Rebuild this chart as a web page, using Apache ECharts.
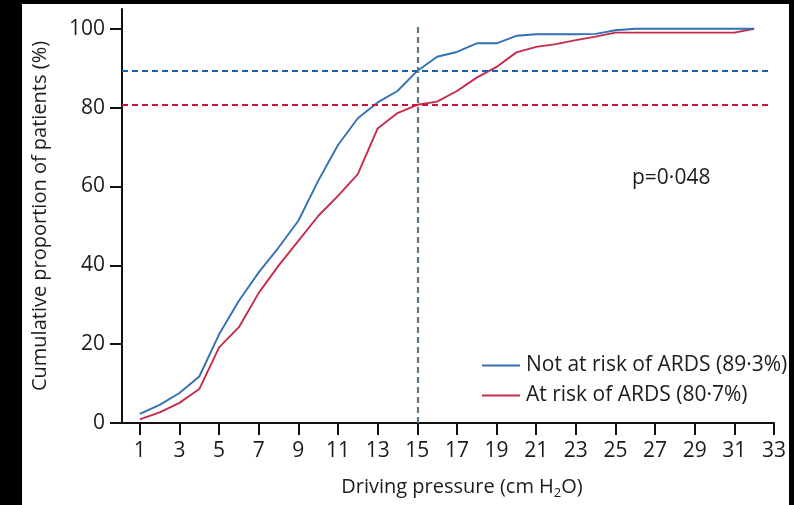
<!DOCTYPE html>
<html>
<head>
<meta charset="utf-8">
<script src="https://cdn.jsdelivr.net/npm/echarts@6/dist/echarts.min.js"></script>
<style>
  html, body { margin: 0; padding: 0; background: #000; width: 794px; height: 505px; overflow: hidden; }
  #chart { position: absolute; left: 22px; top: 4px; width: 767px; height: 501px; background: #fff; }
</style>
</head>
<body>
<div id="chart"></div>
<script>
// Driving pressure (cm H2O), one point per integer value
const pressure = [1, 2, 3, 4, 5, 6, 7, 8, 9, 10, 11, 12, 13, 14, 15, 16,
                  17, 18, 19, 20, 21, 22, 23, 24, 25, 26, 27, 28, 29, 30, 31, 32];

// Cumulative proportion of patients (%)
const notAtRisk = [2.3, 4.6, 7.6, 11.8, 22.5, 31.0, 38.2, 44.5, 51.3, 61.4, 70.5, 77.3, 81.3, 84.2, 89.3, 92.9,
                   94.1, 96.3, 96.3, 98.2, 98.6, 98.6, 98.6, 98.7, 99.6, 100, 100, 100, 100, 100, 100, 100];
const atRisk    = [0.9, 2.7, 5.1, 8.6, 19.2, 24.3, 33.0, 39.9, 46.2, 52.5, 57.6, 63.1, 74.7, 78.6, 80.7, 81.5,
                   84.2, 87.6, 90.3, 94.0, 95.4, 96.1, 97.1, 98.0, 99.0, 99.0, 99.0, 99.0, 99.0, 99.0, 99.0, 100];

// Reference cut-off and the proportion of each group at or below it
const cutoffPressure = 15;
const notAtRiskAtCutoff = 89.3;
const atRiskAtCutoff = 80.7;

const xTickLabels = [1, 3, 5, 7, 9, 11, 13, 15, 17, 19, 21, 23, 25, 27, 29, 31, 33];
const yTickLabels = [0, 20, 40, 60, 80, 100];

const seriesNames = ['Not at risk of ARDS (89·3%)', 'At risk of ARDS (80·7%)'];
const pValueText = 'p=0·048';

const BLUE = '#3470b4';
const BLUE_DASH = '#1a62ab';
const RED = '#c42c4c';
const RED_DASH = '#c8143e';
const GREY_DASH = '#5e7682';
const TEXT = '#1f1b1c';
const FONT = '"Open Sans", sans-serif';

const pairs = (ys) => pressure.map((x, i) => [x, ys[i]]);
const dashed = (color) => ({ color: color, width: 2.2, type: [6, 4] });

const chart = echarts.init(document.getElementById('chart'), null, { renderer: 'canvas' });

chart.setOption({
  animation: false,
  backgroundColor: '#fff',
  textStyle: { fontFamily: FONT, color: TEXT },
  title: {
    text: pValueText,
    left: 610,
    top: 164,
    padding: 0,
    textStyle: { fontFamily: FONT, fontSize: 21, fontWeight: 'normal', color: TEXT }
  },
  legend: {
    orient: 'vertical',
    left: 460,
    top: 351,
    padding: 0,
    itemGap: 9,
    itemWidth: 38,
    itemHeight: 2,
    icon: 'rect',
    data: seriesNames,
    textStyle: { fontFamily: FONT, fontSize: 21, color: TEXT, padding: [0, 0, 0, 1] }
  },
  grid: { left: 99, right: 13, top: 5, bottom: 81, containLabel: false },
  xAxis: {
    type: 'value',
    min: 0.1,
    max: 33,
    name: 'Driving pressure (cm H{sub|2}O)',
    nameLocation: 'middle',
    nameGap: 51,
    nameTextStyle: {
      fontFamily: FONT, fontSize: 20, color: TEXT, lineHeight: 26,
      padding: [0, 0, 0, 28],
      rich: { sub: { fontFamily: FONT, fontSize: 13, lineHeight: 13, verticalAlign: 'bottom', color: TEXT } }
    },
    axisLine: { show: true, onZero: false, lineStyle: { color: '#111', width: 2 } },
    axisTick: { show: true, length: 12, customValues: xTickLabels, lineStyle: { color: '#111', width: 2 } },
    axisLabel: { customValues: xTickLabels, margin: 18, fontFamily: FONT, fontSize: 21, color: TEXT },
    splitLine: { show: false }
  },
  yAxis: {
    type: 'value',
    min: 0,
    max: 105,
    name: 'Cumulative proportion of patients (%)',
    nameLocation: 'middle',
    nameGap: 72,
    nameTextStyle: { fontFamily: FONT, fontSize: 20, color: TEXT },
    axisLine: { show: true, onZero: false, lineStyle: { color: '#111', width: 2 } },
    axisTick: { show: true, length: 12, customValues: yTickLabels, lineStyle: { color: '#111', width: 2 } },
    axisLabel: { customValues: yTickLabels, margin: 17, fontFamily: FONT, fontSize: 21, color: TEXT },
    splitLine: { show: false }
  },
  series: [
    {
      name: seriesNames[0],
      type: 'line',
      data: pairs(notAtRisk),
      showSymbol: false,
      symbol: 'none',
      color: BLUE,
      lineStyle: { color: BLUE, width: 1.9 },
      z: 3,
      markLine: {
        silent: true,
        symbol: 'none',
        label: { show: false },
        lineStyle: dashed(BLUE_DASH),
        data: [
          [{ coord: [0.1, notAtRiskAtCutoff] }, { coord: [32.9, notAtRiskAtCutoff] }]
        ]
      }
    },
    {
      name: seriesNames[1],
      type: 'line',
      data: pairs(atRisk),
      showSymbol: false,
      symbol: 'none',
      color: RED,
      lineStyle: { color: RED, width: 1.9 },
      z: 2,
      markLine: {
        silent: true,
        symbol: 'none',
        label: { show: false },
        lineStyle: dashed(RED_DASH),
        data: [
          [{ coord: [0.1, atRiskAtCutoff] }, { coord: [32.9, atRiskAtCutoff] }],
          [{ coord: [cutoffPressure, 0], lineStyle: dashed(GREY_DASH) },
           { coord: [cutoffPressure, 101], lineStyle: dashed(GREY_DASH) }]
        ]
      }
    }
  ]
});
</script>
</body>
</html>
